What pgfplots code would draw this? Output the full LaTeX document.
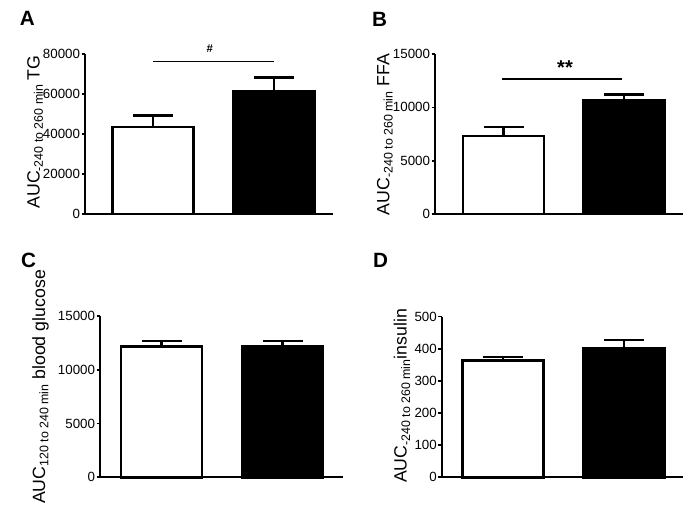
\documentclass[border=0pt]{standalone}
\usepackage{fontspec}
\setmainfont{Liberation Sans}
\usepackage{pgfplots}
\pgfplotsset{compat=1.18}
\newcommand\sub[1]{\raisebox{-2.5pt}{\fontsize{9.3}{10}\selectfont #1}}
\pgfplotsset{
  panel/.style={
    scale only axis,
    anchor=south west,
    axis x line=bottom, axis y line=left,
    axis line style={-, line width=1.25pt},
    xmin=0, ymin=0,
    xtick=\empty,
    tick align=outside,
    major tick length=2.5pt,
    ytick style={line width=1.25pt, black},
    yticklabel style={font=\fontsize{10}{11}\selectfont, inner sep=1pt},
    /pgf/number format/assume math mode=true,
    /pgf/number format/1000 sep={},
    scaled y ticks=false,
    clip=false,
  },
  wbar/.style={ybar, bar shift=0pt, bar width=81, fill=white, draw=black, line width=2pt,
    error bars/.cd, y dir=plus, y explicit,
    error bar style={line width=1.75pt, black},
    error mark options={rotate=90, line width=1.75pt, mark size=15pt, black}},
  bbar/.style={ybar, bar shift=0pt, bar width=81, fill=black, draw=black, line width=2pt,
    error bars/.cd, y dir=plus, y explicit,
    error bar style={line width=1.75pt, black},
    error mark options={rotate=90, line width=1.75pt, mark size=15pt, black}},
  sig/.style={black, line width=1pt, forget plot},
}
\begin{document}
\begin{tikzpicture}
\begin{scope}[x=0.75pt, y=-0.75pt]
  \path (0,0) rectangle (700,529);
  % panel letters
  \node[font=\fontsize{15.5}{16}\selectfont\bfseries, inner sep=0] at (27.3,18) {A};
  \node[font=\fontsize{15.5}{16}\selectfont\bfseries, inner sep=0] at (379.5,19.7) {B};
  \node[font=\fontsize{15.5}{16}\selectfont\bfseries, inner sep=0] at (28.7,260) {C};
  \node[font=\fontsize{15.5}{16}\selectfont\bfseries, inner sep=0] at (380.5,260.5) {D};
  % y labels
  \node[rotate=90, anchor=base, inner sep=0, font=\fontsize{13.3}{14}\selectfont] at (39.5,132) {AUC\sub{-240 to 260 min} TG};
  \node[rotate=90, anchor=base, inner sep=0, font=\fontsize{13.3}{14}\selectfont] at (389.3,134.5) {AUC\sub{-240 to 260 min} FFA};
  \node[rotate=90, anchor=base, inner sep=0, font=\fontsize{13.3}{14}\selectfont] at (45,387) {AUC\sub{120 to 240 min} blood glucose};
  \node[rotate=90, anchor=base, inner sep=0, font=\fontsize{13.3}{14}\selectfont] at (406.7,396) {AUC\sub{-240 to 260 min}insulin};
\end{scope}

% Panel A
\begin{axis}[panel, at={({85*0.75pt},{-214*0.75pt})}, width=186pt, height=120pt,
  xmax=248, ymax=80000, ytick={0,20000,40000,60000,80000}]
  \addplot[wbar] coordinates {(68,43500) +- (0,5700)};
  \addplot[bbar] coordinates {(189,61150) +- (0,7150)};
  \addplot[sig] coordinates {(68,76150) (189,76150)};
  \node[font=\fontsize{8.5}{9}\selectfont\bfseries, inner sep=0] at (axis cs:124.7,82500) {\#};
\end{axis}

% Panel B
\begin{axis}[panel, at={({435*0.75pt},{-214*0.75pt})}, width=186pt, height=120pt,
  xmax=248, ymax=15000, ytick={0,5000,10000,15000}]
  \addplot[wbar] coordinates {(68.5,7312) +- (0,844)};
  \addplot[bbar] coordinates {(189,10690) +- (0,500)};
  \addplot[sig] coordinates {(67,12656) (187,12656)};
  \node[font=\fontsize{15}{16}\selectfont\bfseries, inner sep=0] at (axis cs:130,13700) {**};
\end{axis}

% Panel C
\begin{axis}[panel, at={({100*0.75pt},{-477.3*0.75pt})}, width=182.25pt, height=121pt,
  xmax=243, ymax=15000, ytick={0,5000,10000,15000}]
  \addplot[wbar] coordinates {(61.5,12145) +- (0,545)};
  \addplot[bbar] coordinates {(182.5,12145) +- (0,545)};
\end{axis}

% Panel D
\begin{axis}[panel, at={({441.7*0.75pt},{-477.3*0.75pt})}, width=180.75pt, height=120.5pt,
  xmax=241, ymax=500, ytick={0,100,200,300,400,500}]
  \addplot[wbar] coordinates {(61,363) +- (0,10.6)};
  \addplot[bbar] coordinates {(182,400) +- (0,27)};
\end{axis}
\end{tikzpicture}
\end{document}
